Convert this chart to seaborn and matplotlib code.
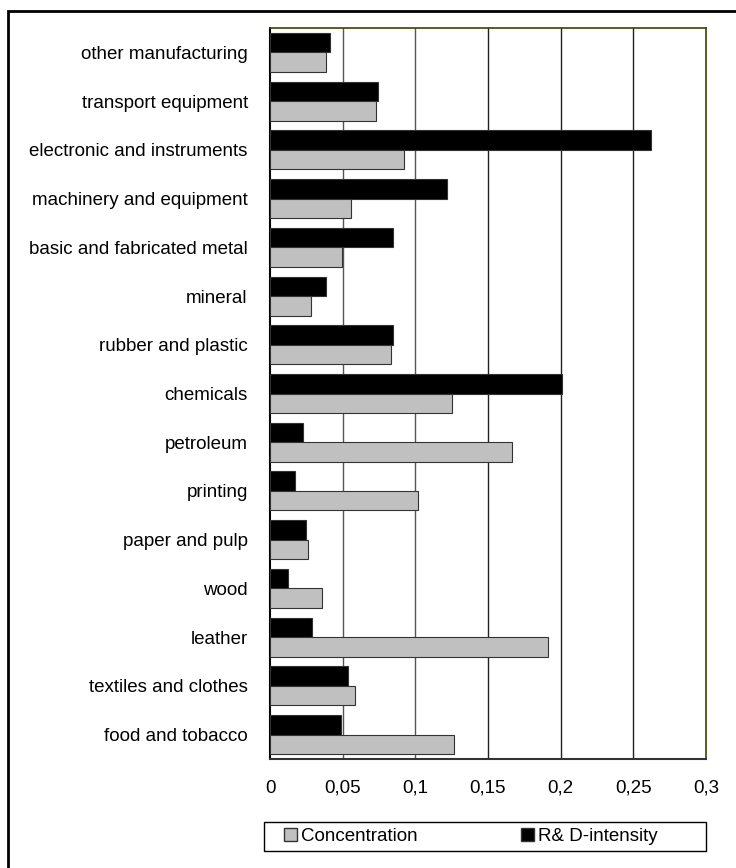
import matplotlib
matplotlib.use("Agg")
import matplotlib.pyplot as plt
import matplotlib.patches as mpatches
import numpy as np
import pandas as pd
import seaborn as sns

# Data (top to bottom as shown)
industries = [
    "other manufacturing", "transport equipment", "electronic and instruments",
    "machinery and equipment", "basic and fabricated metal", "mineral",
    "rubber and plastic", "chemicals", "petroleum", "printing",
    "paper and pulp", "wood", "leather", "textiles and clothes", "food and tobacco",
]
rd_intensity = [0.041, 0.0745, 0.262, 0.1218, 0.0844, 0.0385, 0.0844, 0.2009,
                0.0225, 0.0174, 0.025, 0.0126, 0.0287, 0.0534, 0.0486]
concentration = [0.0383, 0.0731, 0.092, 0.056, 0.0493, 0.0284, 0.083, 0.1252,
                 0.1663, 0.1016, 0.0259, 0.0358, 0.191, 0.0583, 0.1266]
series_names = ["R&D-intensity", "Concentration"]
x_ticks = [0, 0.05, 0.1, 0.15, 0.2, 0.25, 0.3]
x_labels = ["0", "0,05", "0,1", "0,15", "0,2", "0,25", "0,3"]

df = pd.DataFrame({
    "industry": industries * 2,
    "value": rd_intensity + concentration,
    "series": [series_names[0]] * len(industries) + [series_names[1]] * len(industries),
})

sns.set_style("white")
plt.rcParams["font.family"] = ["Liberation Sans", "DejaVu Sans"]
plt.rcParams["text.color"] = "black"
plt.rcParams["xtick.labelcolor"] = "black"
plt.rcParams["ytick.labelcolor"] = "black"

W, H = 736, 868
fig = plt.figure(figsize=(W / 100, H / 100), dpi=100)

# outer frame
fig.patches.append(mpatches.Rectangle((8 / W, -0.05), 1.0, 1 - 11 / H + 0.05,
                                      transform=fig.transFigure, fill=False,
                                      edgecolor="black", linewidth=2.0))

left, right, top, bottom = 270, 706, 28, 759
ax = fig.add_axes([left / W, 1 - bottom / H, (right - left) / W, (bottom - top) / H])

palette = {"R&D-intensity": "black", "Concentration": "#c0c0c0"}
sns.barplot(data=df, y="industry", x="value", hue="series", order=industries,
            hue_order=series_names, palette=palette, orient="h", width=0.8,
            edgecolor="#333333", linewidth=0.8, ax=ax, legend=False, zorder=3)

ax.set_xlim(0, 0.3)
ax.set_ylim(len(industries) - 0.5, -0.5)
ax.set_xticks(x_ticks)
ax.set_xticklabels(x_labels, fontsize=13.5)
ax.set_xlabel("")
ax.set_ylabel("")
ax.tick_params(axis="x", length=5, width=1, color="black", pad=10)

# y: labels at centers, tick marks at category boundaries
ax.tick_params(axis="y", which="major", length=0, pad=16, labelsize=13.5)
ax.set_yticks(np.arange(-0.5, len(industries), 1), minor=True)
ax.tick_params(axis="y", which="minor", length=5, width=1, color="black")

for x in x_ticks[1:-1]:
    ax.axvline(x, color="#555555" if x < 0.15 else "#222222", linewidth=1, zorder=1)

for side in ["top", "right"]:
    ax.spines[side].set_color("#404000")
    ax.spines[side].set_linewidth(1.2)
ax.spines["left"].set_color("black")
ax.spines["bottom"].set_color("#333333")
for side in ["left", "bottom"]:
    ax.spines[side].set_linewidth(1.5)

# legend box drawn separately, entries placed inside
fig.patches.append(mpatches.Rectangle((264 / W, 1 - 851 / H), (706 - 264) / W, 29 / H,
                                      transform=fig.transFigure, fill=False,
                                      edgecolor="black", linewidth=1.0))
handles = [mpatches.Patch(facecolor="#c0c0c0", edgecolor="#333333", label="Concentration"),
           mpatches.Patch(facecolor="black", edgecolor="#333333", label="R& D-intensity")]
leg = fig.legend(handles=handles, ncol=2, loc="center left",
                 bbox_to_anchor=(284 / W, 1 - 836.5 / H),
                 frameon=False, fontsize=13.5, handlelength=0.7,
                 handleheight=0.7, handletextpad=0.2, columnspacing=5.5,
                 borderpad=0, borderaxespad=0)

fig.savefig("out.png", dpi=100)
